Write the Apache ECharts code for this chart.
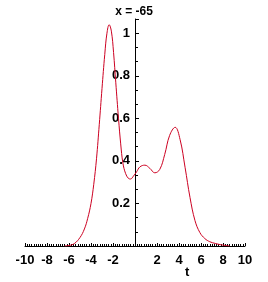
<!DOCTYPE html>
<html><head><meta charset="utf-8">
<script src="https://cdn.jsdelivr.net/npm/echarts@6/dist/echarts.min.js"></script>
<style>html,body{margin:0;padding:0;background:#fff}#c{width:268px;height:282px}</style>
</head><body><div id="c"></div>
<script>
const titleText = 'x = -65';
const axisName = 't';
const tValues = [-6.4,-6.0,-5.5,-5.0,-4.6,-4.3,-4.0,-3.75,-3.5,-3.25,-3.0,-2.75,-2.55,-2.35,-2.15,-1.95,-1.75,-1.5,-1.3,-1.1,-0.85,-0.6,-0.4,-0.15,0.15,0.45,0.9,1.35,1.8,2.25,2.7,3.15,3.65,4.1,4.55,5.0,5.45,5.9,6.35,6.8,7.3,7.8,8.6];
const yValues = [0,0.002,0.012,0.04,0.08,0.13,0.20,0.29,0.41,0.57,0.74,0.90,1.00,1.04,1.01,0.91,0.77,0.60,0.48,0.39,0.34,0.318,0.315,0.328,0.349,0.372,0.38,0.365,0.344,0.36,0.43,0.52,0.558,0.50,0.37,0.228,0.12,0.063,0.035,0.02,0.012,0.006,0];
const xTickLabels = ['-10','-8','-6','-4','-2','2','4','6','8','10'];
const yTickLabels = ['0.2','0.4','0.6','0.8','1'];

const chart = echarts.init(document.getElementById('c'), null, {renderer:'canvas'});
const font = {fontFamily:'Liberation Sans, Arial, sans-serif', fontWeight:'bold', fontSize:13, color:'#000'};
chart.setOption({
  animation:false,
  title:{text:titleText, left:'center', top:1, textStyle:Object.assign({}, font, {fontSize:12})},
  grid:{left:25, right:23, top:19, bottom:36},
  xAxis:{type:'value', min:-10, max:10, interval:2,
    axisLine:{onZero:false, lineStyle:{color:'#000', width:1}},
    axisTick:{show:true, inside:true, length:3, lineStyle:{color:'#000'}},
    minorTick:{show:true, splitNumber:10, length:2, lineStyle:{color:'#000'}},
    splitLine:{show:false},
    axisLabel:Object.assign({margin:8, formatter:v=>{const s=String(v); return xTickLabels.includes(s)?s:'';}}, font)
  },
  yAxis:{type:'value', min:0, max:1.067, interval:0.2, position:'left', offset:-110,
    axisLine:{onZero:false, lineStyle:{color:'#000', width:1}},
    axisTick:{show:true, inside:true, length:4, lineStyle:{color:'#000', width:1}},
    minorTick:{show:true, splitNumber:3, length:3, lineStyle:{color:'#000', width:1}},
    splitLine:{show:false},
    axisLabel:Object.assign({margin:5, showMaxLabel:false, formatter:v=>{const s=Math.abs(v-1)<1e-9?'1':(+v).toFixed(1); return yTickLabels.includes(s)?s:'';}}, font)
  },
  graphic:[{type:'text', left:185, top:266, style:{text:axisName, font:'bold 13px Liberation Sans, Arial, sans-serif', fill:'#000'}}],
  series:[{type:'line', data:tValues.map((t,i)=>[t,yValues[i]]), smooth:0.4, symbol:'none',
    lineStyle:{color:'#cc0022', width:1}, z:1}]
});
</script></body></html>
